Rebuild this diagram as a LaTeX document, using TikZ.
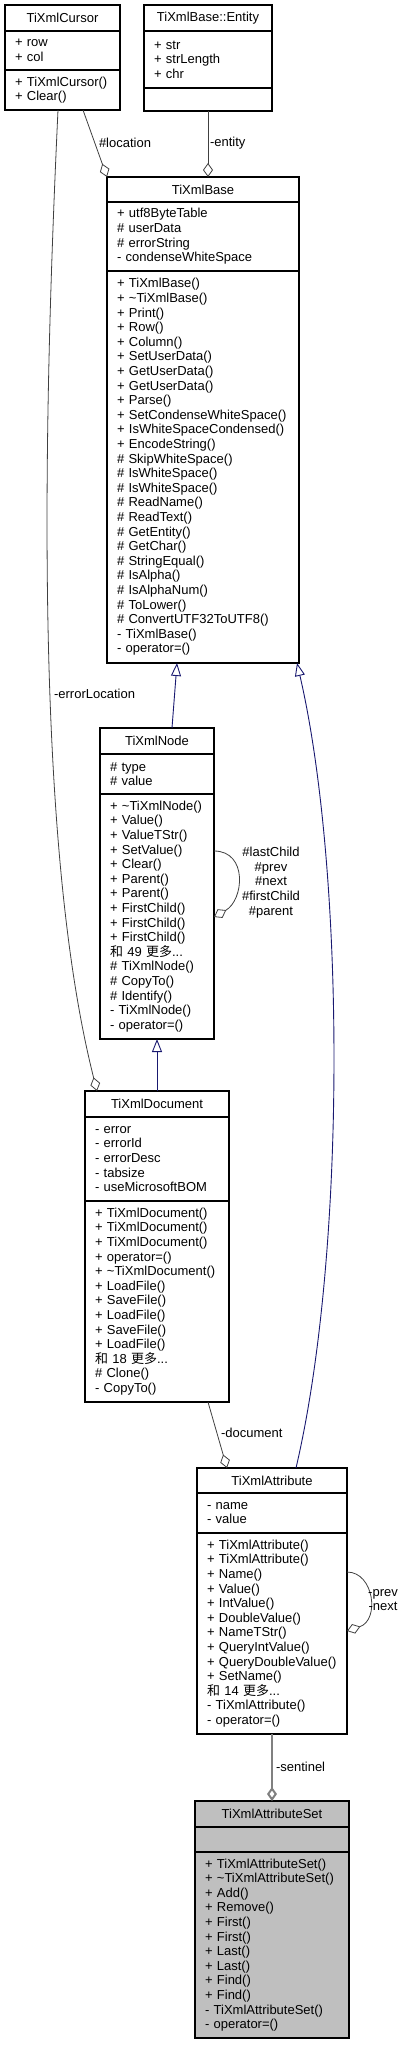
\documentclass[tikz,border=0pt]{standalone}
\usepackage{fontspec}
\setmainfont{Liberation Sans}
\newfontfamily\cjk{Noto Sans CJK SC}
\usepackage{tikz}
\usetikzlibrary{arrows.meta, positioning}
\definecolor{navy}{HTML}{191970}
\definecolor{edgegray}{HTML}{404040}
\newcommand{\more}[1]{{\cjk 和}~#1~{\cjk 更多}...}
\newcommand{\tl}{\textasciitilde}

\begin{document}
\begin{tikzpicture}[
  x=1pt, y=-1pt,
  every node/.style={font=\fontsize{13}{14.6}\selectfont, outer sep=0pt},
  cname/.style={rectangle, draw, line width=1.1pt, minimum height=26pt,
                align=center, inner sep=0pt, anchor=north},
  cpart/.style={rectangle, draw, line width=1.1pt, align=left,
                inner xsep=10pt, inner ysep=0pt},
  focus/.style={fill=black!25},
  agg/.style={draw=edgegray, line width=0.8pt,
              -{Diamond[open, length=14pt, width=10pt]}},
  inh/.style={draw=navy, line width=0.9pt,
              -{Triangle[open, length=13pt, width=10pt]}},
  lbl/.style={inner sep=0pt},
]
\useasboundingbox (0,0) rectangle (409,2045);

% TiXmlCursor
\node[cname, minimum width=115pt] (cursor) at (62.5,5) {TiXmlCursor};
\node[cpart, text width=95pt, minimum height=39pt, below=0pt of cursor] (cursorattr)
     {+~row\\+~col};
\node[cpart, text width=95pt, minimum height=40pt, below=0pt of cursorattr] (cursormeth)
     {+~TiXmlCursor()\\+~Clear()};

% TiXmlBase::Entity
\node[cname, minimum width=128pt] (entity) at (208,5) {TiXmlBase::Entity};
\node[cpart, text width=108pt, minimum height=57pt, below=0pt of entity] (entityattr)
     {+~str\\+~strLength\\+~chr};
\node[cpart, text width=108pt, minimum height=23pt, below=0pt of entityattr] (entitymeth) {};

% TiXmlBase
\node[cname, minimum width=192pt, minimum height=25pt] (base) at (203,177) {TiXmlBase};
\node[cpart, text width=172pt, minimum height=69pt, below=0pt of base] (baseattr)
     {+~utf8ByteTable\\\#~userData\\\#~errorString\\-~condenseWhiteSpace};
\node[cpart, text width=172pt, minimum height=392pt, below=0pt of baseattr] (basemeth)
     {+~TiXmlBase()\\+~\tl TiXmlBase()\\+~Print()\\+~Row()\\+~Column()\\
      +~SetUserData()\\+~GetUserData()\\+~GetUserData()\\+~Parse()\\
      +~SetCondenseWhiteSpace()\\+~IsWhiteSpaceCondensed()\\+~EncodeString()\\
      \#~SkipWhiteSpace()\\\#~IsWhiteSpace()\\\#~IsWhiteSpace()\\\#~ReadName()\\
      \#~ReadText()\\\#~GetEntity()\\\#~GetChar()\\\#~StringEqual()\\\#~IsAlpha()\\
      \#~IsAlphaNum()\\\#~ToLower()\\\#~ConvertUTF32ToUTF8()\\-~TiXmlBase()\\
      -~operator=()};

% TiXmlNode
\node[cname, minimum width=114pt] (xmlnode) at (157,728) {TiXmlNode};
\node[cpart, text width=94pt, minimum height=40pt, below=0pt of xmlnode] (xmlnodeattr)
     {\#~type\\\#~value};
\node[cpart, text width=94pt, minimum height=245pt, below=0pt of xmlnodeattr] (xmlnodemeth)
     {+~\tl TiXmlNode()\\+~Value()\\+~ValueTStr()\\+~SetValue()\\+~Clear()\\
      +~Parent()\\+~Parent()\\+~FirstChild()\\+~FirstChild()\\+~FirstChild()\\
      \more{49}\\\#~TiXmlNode()\\\#~CopyTo()\\\#~Identify()\\-~TiXmlNode()\\
      -~operator=()};

% TiXmlDocument
\node[cname, minimum width=144pt] (doc) at (157,1091) {TiXmlDocument};
\node[cpart, text width=124pt, minimum height=84pt, below=0pt of doc] (docattr)
     {-~error\\-~errorId\\-~errorDesc\\-~tabsize\\-~useMicrosoftBOM};
\node[cpart, text width=124pt, minimum height=201pt, below=0pt of docattr] (docmeth)
     {+~TiXmlDocument()\\+~TiXmlDocument()\\+~TiXmlDocument()\\+~operator=()\\
      +~\tl TiXmlDocument()\\+~LoadFile()\\+~SaveFile()\\+~LoadFile()\\
      +~SaveFile()\\+~LoadFile()\\\more{18}\\\#~Clone()\\-~CopyTo()};

% TiXmlAttribute
\node[cname, minimum width=150pt, minimum height=25pt] (attrib) at (272,1468) {TiXmlAttribute};
\node[cpart, text width=130pt, minimum height=40pt, below=0pt of attrib] (attribattr)
     {-~name\\-~value};
\node[cpart, text width=130pt, minimum height=201pt, below=0pt of attribattr] (attribmeth)
     {+~TiXmlAttribute()\\+~TiXmlAttribute()\\+~Name()\\+~Value()\\+~IntValue()\\
      +~DoubleValue()\\+~NameTStr()\\+~QueryIntValue()\\+~QueryDoubleValue()\\
      +~SetName()\\\more{14}\\-~TiXmlAttribute()\\-~operator=()};

% TiXmlAttributeSet
\node[cname, focus, minimum width=154pt] (attribset) at (272,1801) {TiXmlAttributeSet};
\node[cpart, focus, text width=134pt, minimum height=25pt, below=0pt of attribset] (attribsetattr) {};
\node[cpart, focus, text width=134pt, minimum height=186pt, below=0pt of attribsetattr] (attribsetmeth)
     {+~TiXmlAttributeSet()\\+~\tl TiXmlAttributeSet()\\+~Add()\\+~Remove()\\
      +~First()\\+~First()\\+~Last()\\+~Last()\\+~Find()\\+~Find()\\
      -~TiXmlAttributeSet()\\-~operator=()};

% inheritance
\draw[inh] ([xshift=15pt]xmlnode.north) -- ([xshift=-26pt]basemeth.south);
\draw[inh] (doc.north) -- (xmlnodemeth.south);
\draw[inh] ([xshift=24pt]attrib.north) .. controls (347,1250) and (345,870) .. ([xshift=-2pt]basemeth.south east);

% aggregations
\draw[agg] ([xshift=78pt]cursormeth.south west) -- (base.north west);
\draw[agg] (entitymeth.south) -- (entitymeth.south |- base.north);
\draw[agg] ([xshift=-4.5pt]cursormeth.south) .. controls (42,450) and (36,850) .. ([xshift=12pt]doc.north west);
\draw[agg] ([yshift=-57pt]xmlnodemeth.north east) .. controls +(34,0) and +(30,-17) .. ([yshift=-123pt]xmlnodemeth.north east);
\draw[agg] ([xshift=-21pt]docmeth.south east) -- ([xshift=-45pt]attrib.north);
\draw[agg] ([yshift=-39pt]attribmeth.north east) .. controls +(27,0) and +(33,-11) .. ([yshift=-98pt]attribmeth.north east);
\draw[agg, draw=black!50, line width=2pt] (attribmeth.south) -- (attribset.north);

% edge labels
\node[lbl, anchor=west] (lbllocation) at (99,143) {\#location};
\node[lbl, anchor=west] (lblentity) at (210,143) {-entity};
\node[lbl, anchor=east] (lblerrloc) at (135,694) {-errorLocation};
\node[lbl, align=center] (lblnodeloop) at (271,882.5)
     {\#lastChild\\\#prev\\\#next\\\#firstChild\\\#parent};
\node[lbl, anchor=west] (lbldocument) at (221,1433) {-document};
\node[lbl, align=center] (lblattribloop) at (383,1600) {-prev\\-next};
\node[lbl, anchor=west] (lblsentinel) at (276,1767) {-sentinel};
\end{tikzpicture}
\end{document}
